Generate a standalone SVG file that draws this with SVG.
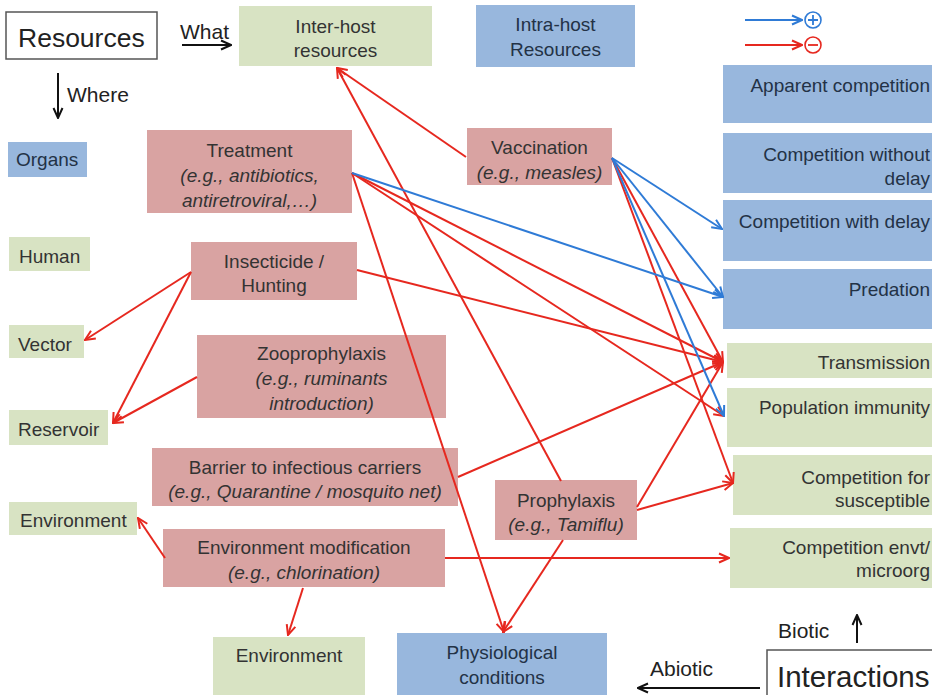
<svg xmlns="http://www.w3.org/2000/svg" width="932" height="695" viewBox="0 0 932 695">
<style>
  text { font-family: "Liberation Sans", Arial, sans-serif; font-size: 19px; fill: #333; }
  .c { text-anchor: middle; }
  .e { text-anchor: end; }
  .i { font-style: italic; }
  .red { fill: #d9a3a2; }
  .grn { fill: #d8e3c3; }
  .blu { fill: #98b7dd; }
  .blu + text, .bt { fill: #233246; }
  .frame { fill: #fff; stroke: #555; stroke-width: 1.5; }
  .big { font-size: 26.5px; fill: #222; }
  .lab { font-size: 21px; fill: #222; }
  .r { stroke: #e6281f; stroke-width: 2; fill: none; marker-end: url(#mr); }
  .b { stroke: #2f7bd6; stroke-width: 2; fill: none; marker-end: url(#mb); }
  .k { stroke: #111; stroke-width: 2; fill: none; marker-end: url(#mk); }
</style>
<defs>
  <marker id="mr" viewBox="0 0 12 12" refX="11" refY="6" markerWidth="12" markerHeight="12" markerUnits="userSpaceOnUse" orient="auto">
    <path d="M1,1.5 L11,6 L1,10.5" fill="none" stroke="#e6281f" stroke-width="2"/>
  </marker>
  <marker id="mb" viewBox="0 0 12 12" refX="11" refY="6" markerWidth="12" markerHeight="12" markerUnits="userSpaceOnUse" orient="auto">
    <path d="M1,1.5 L11,6 L1,10.5" fill="none" stroke="#2f7bd6" stroke-width="2"/>
  </marker>
  <marker id="mk" viewBox="0 0 12 12" refX="11" refY="6" markerWidth="12" markerHeight="12" markerUnits="userSpaceOnUse" orient="auto">
    <path d="M1,1.5 L11,6 L1,10.5" fill="none" stroke="#111" stroke-width="2"/>
  </marker>
</defs>
<rect width="932" height="695" fill="#fff"/>

<!-- Legend -->
<g id="legend">
  <line x1="745" y1="20" x2="802" y2="20" class="b"/>
  <circle cx="813" cy="20" r="8" fill="none" stroke="#2f7bd6" stroke-width="1.6"/>
  <path d="M808,20 H818 M813,15 V25" stroke="#2f7bd6" stroke-width="1.8"/>
  <line x1="745" y1="45" x2="802" y2="45" class="r"/>
  <circle cx="813" cy="45" r="8" fill="none" stroke="#e6281f" stroke-width="1.6"/>
  <path d="M808,45 H818" stroke="#e6281f" stroke-width="1.8"/>
</g>

<!-- Headers -->
<g id="resources">
  <rect class="frame" x="6" y="12" width="151" height="47"/>
  <text class="big" x="18" y="47">Resources</text>
</g>
<g id="interactions">
  <rect class="frame" x="767" y="650" width="170" height="50"/>
  <text class="big" x="777" y="687" style="font-size:29.5px">Interactions</text>
</g>
<g id="labels">
  <text class="lab" x="180" y="39">What</text>
  <text class="lab" x="67" y="102">Where</text>
  <text class="lab" x="778" y="638">Biotic</text>
  <text class="lab" x="650" y="676">Abiotic</text>
</g>

<!-- Resource nodes -->
<g id="inter-host"><rect class="grn" x="239" y="6" width="193" height="60"/>
  <text class="c" x="335.5" y="33">Inter-host</text><text class="c" x="335.5" y="57">resources</text></g>
<g id="intra-host"><rect class="blu" x="476" y="5" width="159" height="62"/>
  <text class="c bt" x="555.5" y="31">Intra-host</text><text class="c bt" x="555.5" y="56">Resources</text></g>
<g id="organs"><rect class="blu" x="8" y="142" width="79" height="35"/>
  <text class="bt" x="16" y="166">Organs</text></g>
<g id="human"><rect class="grn" x="9" y="237" width="81" height="34"/>
  <text x="19" y="263">Human</text></g>
<g id="vector"><rect class="grn" x="9" y="325" width="75" height="33"/>
  <text x="18" y="351">Vector</text></g>
<g id="reservoir"><rect class="grn" x="9" y="410" width="99" height="35"/>
  <text x="18" y="436">Reservoir</text></g>
<g id="environment-left"><rect class="grn" x="9" y="502" width="128" height="33"/>
  <text x="20" y="527">Environment</text></g>
<g id="environment-bottom"><rect class="grn" x="213" y="637" width="152" height="60"/>
  <text class="c" x="289" y="662">Environment</text></g>
<g id="physiological"><rect class="blu" x="397" y="633" width="210" height="64"/>
  <text class="c bt" x="502" y="659">Physiological</text><text class="c bt" x="502" y="684">conditions</text></g>

<!-- Interventions -->
<g id="treatment"><rect class="red" x="147" y="130" width="205" height="83"/>
  <text class="c" x="249.5" y="157">Treatment</text>
  <text class="c i" x="249.5" y="182">(e.g., antibiotics,</text>
  <text class="c i" x="249.5" y="207">antiretroviral,…)</text></g>
<g id="vaccination"><rect class="red" x="467" y="128" width="145" height="57"/>
  <text class="c" x="539.5" y="154">Vaccination</text>
  <text class="c i" x="539.5" y="179">(e.g., measles)</text></g>
<g id="insecticide"><rect class="red" x="191" y="242" width="166" height="58"/>
  <text class="c" x="274" y="268">Insecticide /</text>
  <text class="c" x="274" y="292">Hunting</text></g>
<g id="zooprophylaxis"><rect class="red" x="197" y="335" width="249" height="83"/>
  <text class="c" x="321.5" y="360">Zooprophylaxis</text>
  <text class="c i" x="321.5" y="385">(e.g., ruminants</text>
  <text class="c i" x="321.5" y="410">introduction)</text></g>
<g id="barrier"><rect class="red" x="152" y="448" width="306" height="58"/>
  <text class="c" x="305" y="474">Barrier to infectious carriers</text>
  <text class="c i" x="305" y="498">(e.g., Quarantine / mosquito net)</text></g>
<g id="env-modification"><rect class="red" x="163" y="529" width="282" height="58"/>
  <text class="c" x="304" y="554">Environment modification</text>
  <text class="c i" x="304" y="579">(e.g., chlorination)</text></g>
<g id="prophylaxis"><rect class="red" x="495" y="480" width="142" height="60"/>
  <text class="c" x="566" y="507">Prophylaxis</text>
  <text class="c i" x="566" y="531">(e.g., Tamiflu)</text></g>

<!-- Interaction nodes -->
<g id="apparent"><rect class="blu" x="723" y="65" width="209" height="58"/>
  <text class="e bt" x="930" y="92">Apparent competition</text></g>
<g id="comp-without"><rect class="blu" x="723" y="133" width="209" height="60"/>
  <text class="e bt" x="930" y="161">Competition without</text><text class="e bt" x="930" y="185">delay</text></g>
<g id="comp-with"><rect class="blu" x="723" y="200" width="209" height="61"/>
  <text class="e bt" x="930" y="228">Competition with delay</text></g>
<g id="predation"><rect class="blu" x="723" y="269" width="209" height="60"/>
  <text class="e bt" x="930" y="296">Predation</text></g>
<g id="transmission"><rect class="grn" x="727" y="343" width="205" height="35"/>
  <text class="e" x="930" y="369">Transmission</text></g>
<g id="pop-immunity"><rect class="grn" x="727" y="388" width="205" height="59"/>
  <text class="e" x="930" y="414">Population immunity</text></g>
<g id="comp-susceptible"><rect class="grn" x="733" y="455" width="199" height="60"/>
  <text class="e" x="930" y="484">Competition for</text><text class="e" x="930" y="507">susceptible</text></g>
<g id="comp-envt"><rect class="grn" x="730" y="528" width="202" height="60"/>
  <text class="e" x="930" y="554">Competition envt/</text><text class="e" x="930" y="577">microorg</text></g>

<!-- Connectors -->
<g id="connectors">
  <line class="k" x1="182" y1="45" x2="231" y2="45"/>
  <line class="k" x1="58" y1="73" x2="58" y2="118"/>
  <line class="k" x1="857" y1="643" x2="857" y2="615"/>
  <line class="k" x1="760" y1="688" x2="638" y2="688"/>

  <line class="r" x1="466" y1="157" x2="337" y2="68"/>
  <line class="r" x1="561" y1="481" x2="337" y2="68"/>
  <line class="r" x1="352" y1="173" x2="504" y2="632"/>
  <line class="r" x1="563" y1="540" x2="503" y2="632"/>
  <line class="r" x1="352" y1="173" x2="723" y2="362"/>
  <line class="r" x1="352" y1="173" x2="724" y2="416"/>
  <line class="r" x1="357" y1="270" x2="723" y2="362"/>
  <line class="r" x1="191" y1="272" x2="85" y2="340"/>
  <line class="r" x1="191" y1="272" x2="113" y2="423"/>
  <line class="r" x1="197" y1="377" x2="113" y2="423"/>
  <line class="r" x1="458" y1="477" x2="723" y2="362"/>
  <line class="r" x1="637" y1="507" x2="723" y2="362"/>
  <line class="r" x1="637" y1="510" x2="733" y2="483"/>
  <line class="r" x1="612" y1="158" x2="723" y2="362"/>
  <line class="r" x1="612" y1="158" x2="733" y2="483"/>
  <line class="r" x1="445" y1="558" x2="729" y2="558"/>
  <line class="r" x1="165" y1="558" x2="138" y2="518"/>
  <line class="r" x1="303" y1="588" x2="288" y2="635"/>

  <line class="b" x1="352" y1="173" x2="723" y2="297"/>
  <line class="b" x1="612" y1="158" x2="722" y2="229"/>
  <line class="b" x1="612" y1="158" x2="723" y2="297"/>
  <line class="b" x1="612" y1="158" x2="724" y2="416"/>
</g>
</svg>
